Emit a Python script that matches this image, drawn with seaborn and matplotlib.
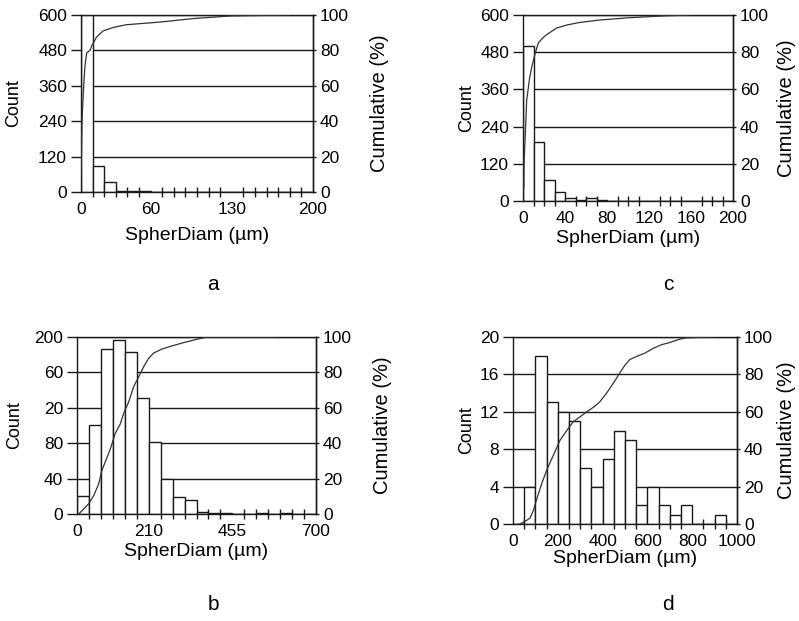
import numpy as np
import pandas as pd
import matplotlib
matplotlib.use("Agg")
import matplotlib.pyplot as plt
import seaborn as sns
from matplotlib import font_manager as fm
from matplotlib.ticker import FixedLocator

# ---------------- data ----------------
# panel a
range_a = (0, 200)
counts_a = [600, 88, 34, 4, 4, 3, 1, 1, 0, 0, 1, 0, 0, 0, 0, 0, 0, 0, 0, 0]
cum_x_a = [0.2, 0.5, 0.9, 1.4, 2.5, 3.4, 4.9, 7.8, 9.2, 13.5, 19, 28, 39, 68, 97, 130, 180]
cum_y_a = [10, 28, 40, 48, 62, 71, 78.6, 80, 82.5, 87.6, 91, 93, 94.5, 96, 98, 99.5, 100]
yticks_a = [0, 120, 240, 360, 480, 600]
yticklabels_a = ["0", "120", "240", "360", "480", "600"]
xticks_a = [0, 60, 130, 200]

# panel c
range_c = (0, 200)
counts_c = [500, 189, 67, 29, 10, 3, 9, 2, 0, 0, 1, 0, 0, 0, 0, 0, 1, 0, 0, 0]
cum_x_c = [0.8, 1.0, 2.2, 3.5, 6, 8.3, 11.4, 14.6, 19.4, 24, 32, 41.6, 54, 73, 100, 137, 159]
cum_y_c = [6.8, 20, 36, 54, 65, 72, 79, 85, 88, 90, 93, 94.6, 96, 97.3, 98.5, 99.6, 100]
yticks_c = [0, 120, 240, 360, 480, 600]
yticklabels_c = ["0", "120", "240", "360", "480", "600"]
xticks_c = [0, 40, 80, 120, 160, 200]

# panel b
range_b = (0, 700)
counts_b = [20, 101, 186, 197, 183, 131, 81, 39, 19, 16, 2, 1, 1, 0, 0, 1, 0, 1, 0, 0]
cum_x_b = [5, 19.5, 34, 49, 63.5, 73, 88, 98, 112, 127, 137, 151.5, 166, 181, 195.5,
           210, 225, 249, 278.6, 308, 347, 381, 589]
cum_y_b = [0, 2.8, 5.7, 10.4, 17, 24.6, 32, 37, 45.5, 51, 57, 63.4, 72, 77.6, 83.3,
           88, 91, 93.2, 95, 96.6, 98.5, 100, 100]
yticks_b = [0, 40, 80, 120, 160, 200]
yticklabels_b = ["0", "40", "80", "20", "60", "200"]
xticks_b = [0, 210, 455, 700]

# panel d
range_d = (0, 1000)
counts_d = [0, 4, 18, 13, 12, 11, 6, 4, 7, 10, 9, 2, 4, 2, 1, 2, 0, 0, 1, 0]
cum_x_d = [31, 54, 76, 91, 106, 128, 150, 180, 210, 240, 269, 299, 329, 359, 388, 418,
           448, 478, 500, 522, 552, 589, 627, 664, 701, 738, 768, 894]
cum_y_d = [0, 1.4, 3.2, 7.2, 13.4, 21.5, 28.7, 36.7, 44.8, 50, 54.7, 57.3, 60, 62.4,
           65.4, 70, 75.3, 81, 85, 88, 89.6, 91.4, 94, 95.9, 97.1, 98.6, 99.5, 100]
yticks_d = [0, 4, 8, 12, 16, 20]
yticklabels_d = ["0", "4", "8", "12", "16", "20"]
xticks_d = [0, 200, 400, 600, 800, 1000]

cum_ticks = [0, 20, 40, 60, 80, 100]
panel_letters = ["a", "c", "b", "d"]

# ---------------- style ----------------
sns.set_theme(style="white")
names = {f.name for f in fm.fontManager.ttflist}
base_font = "Liberation Sans" if "Liberation Sans" in names else "DejaVu Sans"
narrow_font = "Liberation Sans Narrow" if "Liberation Sans Narrow" in names else base_font
plt.rcParams["font.family"] = [base_font, "DejaVu Sans"]

LINE = "#1a1a1a"
W, H = 799, 621
fig = plt.figure(figsize=(W / 100, H / 100), dpi=100)


def rect(l, r, t, b):
    return [l / W, 1 - b / H, (r - l) / W, (b - t) / H]


def panel(box, xrange_, counts, cx, cy, yt, ytl, xt, count_x, cum_x_pos, xl_y):
    ax = fig.add_axes(box)
    n = len(counts)
    edges = np.linspace(xrange_[0], xrange_[1], n + 1)
    centers = (edges[:-1] + edges[1:]) / 2
    df = pd.DataFrame({"x": centers, "w": counts})
    ax.set_axisbelow(True)
    sns.histplot(data=df, x="x", weights="w", bins=n, binrange=xrange_, ax=ax,
                 color="white", edgecolor=LINE, linewidth=1.0, alpha=1.0, zorder=2)
    ax.set_xlim(*xrange_)
    ax.set_ylim(yt[0], yt[-1])
    ax.set_yticks(yt)
    ax.set_yticklabels(ytl)
    ax.set_xticks(xt)
    ax.set_xticklabels([str(v) for v in xt])
    ax.xaxis.set_minor_locator(FixedLocator(edges))
    ax.yaxis.grid(True, color=LINE, linewidth=1.0)
    ax.xaxis.grid(False)
    for s in ax.spines.values():
        s.set_color(LINE)
        s.set_linewidth(1.0)
    ax.tick_params(axis="y", which="major", left=True, direction="out", length=7,
                   width=1.0, color=LINE, pad=3, labelsize=12.5, labelcolor="black")
    ax.tick_params(axis="x", which="major", bottom=True, length=0, pad=7,
                   labelsize=12.5, labelcolor="black")
    ax.tick_params(axis="x", which="minor", bottom=True, direction="inout", length=7,
                   width=1.0, color=LINE)
    ax.set_ylabel("Count", fontsize=13, color="black")
    ax.yaxis.set_label_coords(count_x, 0.5)
    ax.set_xlabel("SpherDiam (\u00b5m)", fontsize=14, color="black")
    ax.xaxis.set_label_coords(0.5, xl_y)

    ax2 = ax.twinx()
    sns.lineplot(x=cx, y=cy, ax=ax2, color="#333333", linewidth=0.9, sort=False,
                 estimator=None)
    ax2.set_ylim(0, 100)
    ax2.set_yticks(cum_ticks)
    ax2.set_yticklabels([str(v) for v in cum_ticks])
    ax2.grid(False)
    for k, s in ax2.spines.items():
        s.set_visible(k == "right")
        s.set_color(LINE)
        s.set_linewidth(1.0)
    ax2.tick_params(axis="y", right=True, direction="out", length=2, width=1.0,
                    color=LINE, pad=3, labelsize=12.5, labelcolor="black")
    ax2.set_ylabel("Cumulative (%)", fontsize=14.5, color="black")
    ax2.yaxis.set_label_coords(cum_x_pos, 0.5)
    return ax


panel(rect(81, 313, 15, 192), range_a, counts_a, cum_x_a, cum_y_a,
      yticks_a, yticklabels_a, xticks_a, -0.254, 1.246, -0.195)
panel(rect(523, 733, 15, 201), range_c, counts_c, cum_x_c, cum_y_c,
      yticks_c, yticklabels_c, xticks_c, -0.229, 1.21, -0.155)
panel(rect(77, 316, 337, 514), range_b, counts_b, cum_x_b, cum_y_b,
      yticks_b, yticklabels_b, xticks_b, -0.226, 1.238, -0.164)
panel(rect(513, 737, 337, 524), range_d, counts_d, cum_x_d, cum_y_d,
      yticks_d, yticklabels_d, xticks_d, -0.170, 1.18, -0.138)

letter_pos = [(213, 284), (668, 284), (213, 604), (668, 604)]
for lab, (px, py) in zip(panel_letters, letter_pos):
    fig.text(px / W, 1 - py / H, lab, fontsize=15, ha="center", va="center",
             family=[narrow_font, "DejaVu Sans"], color="black")

fig.savefig("out.png", dpi=100)
